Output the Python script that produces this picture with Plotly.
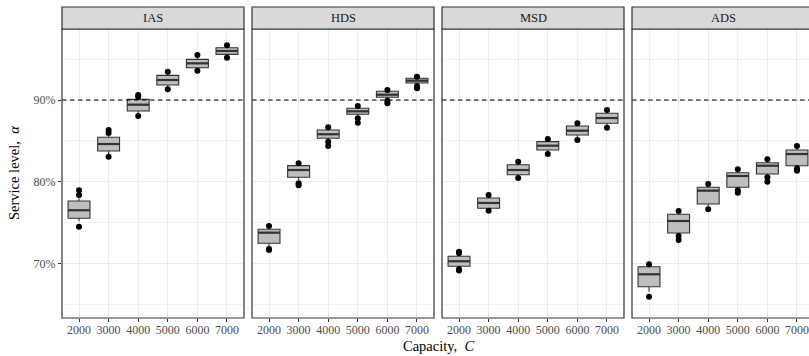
import plotly.graph_objects as go

capacity = [2000, 3000, 4000, 5000, 6000, 7000]
panels = ["IAS", "HDS", "MSD", "ADS"]

ias_q1 = [75.57, 83.78, 88.66, 91.83, 93.94, 95.57]
ias_med = [76.55, 84.63, 89.43, 92.44, 94.47, 95.98]
ias_q3 = [77.68, 85.45, 90.08, 93.00, 94.96, 96.38]
ias_lo = [75.2, 83.4, 88.3, 91.55, 93.75, 95.35]
ias_hi = [78.0, 85.8, 90.3, 93.2, 95.15, 96.5]
ias_out = [[79.0, 78.4, 74.55], [86.34, 85.98, 83.09], [90.61, 90.4, 88.05],
           [93.45, 91.3], [95.49, 93.57], [96.67, 95.16]]

hds_q1 = [72.52, 80.57, 85.33, 88.26, 90.33, 92.07]
hds_med = [73.82, 81.46, 85.82, 88.62, 90.65, 92.36]
hds_q3 = [74.23, 81.99, 86.34, 88.99, 91.06, 92.65]
hds_lo = [72.2, 80.2, 85.1, 88.0, 90.1, 91.85]
hds_hi = [74.4, 82.1, 86.5, 89.1, 91.15, 92.75]
hds_out = [[74.63, 71.83, 71.7], [82.28, 79.84, 79.6], [86.67, 84.92, 84.39],
           [89.27, 87.77, 87.23], [91.22, 89.92, 89.6], [92.85, 91.71, 91.43]]

msd_q1 = [69.72, 76.79, 80.89, 83.90, 85.73, 87.16]
msd_med = [70.33, 77.44, 81.46, 84.43, 86.26, 87.80]
msd_q3 = [70.94, 78.05, 82.11, 84.92, 86.83, 88.38]
msd_lo = [69.5, 76.6, 80.7, 83.65, 85.45, 86.9]
msd_hi = [71.2, 78.25, 82.3, 85.1, 87.0, 88.6]
msd_out = [[71.5, 71.3, 69.35, 69.2], [78.41, 76.5], [82.48, 80.49],
           [85.24, 83.41], [87.16, 85.12], [88.78, 86.62]]

ads_q1 = [67.23, 73.78, 77.32, 79.35, 80.98, 81.98]
ads_med = [68.74, 75.24, 78.95, 80.73, 81.99, 83.41]
ads_q3 = [69.67, 76.06, 79.35, 81.13, 82.35, 83.90]
ads_lo = [66.6, 73.3, 77.0, 79.1, 80.7, 81.8]
ads_hi = [69.9, 76.3, 79.6, 81.4, 82.6, 84.2]
ads_out = [[69.96, 66.01], [76.46, 73.4, 72.93], [79.76, 76.67],
           [81.55, 79.0, 78.7], [82.77, 80.57, 80.04], [84.39, 81.67, 81.38]]

target = 90
y_ticks = [70, 80, 90]
y_minor = [65, 75, 85, 95]

data = {
    "IAS": (ias_q1, ias_med, ias_q3, ias_lo, ias_hi, ias_out),
    "HDS": (hds_q1, hds_med, hds_q3, hds_lo, hds_hi, hds_out),
    "MSD": (msd_q1, msd_med, msd_q3, msd_lo, msd_hi, msd_out),
    "ADS": (ads_q1, ads_med, ads_q3, ads_lo, ads_hi, ads_out),
}

W, H = 809, 356
ML, MR, MT, MB = 62, 0, 29, 38
PW = W - ML - MR
PH = H - MT - MB
panel_px = [(62, 244), (252, 434), (442, 624), (632, 814)]
px_per_unit = 182 / 6150.0
xr0 = 1425

FONT = "Liberation Serif, Times New Roman, serif"
BORDER = "#333333"
GRID = "#EBEBEB"
BOXW = 740

fig = go.Figure()
shapes = []
annotations = []
layout = {}

for i, name in enumerate(panels):
    q1, med, q3, lo, hi, out = data[name]
    ax = "" if i == 0 else str(i + 1)
    xa, ya = "x" + ax, "y" + ax
    fig.add_trace(go.Box(
        x=capacity, q1=q1, median=med, q3=q3, lowerfence=lo, upperfence=hi,
        width=BOXW, whiskerwidth=0, fillcolor="#BEBEBE",
        line=dict(color=BORDER, width=1.1), boxpoints=False,
        xaxis=xa, yaxis=ya, showlegend=False, hoverinfo="skip"))
    mx, my = [], []
    for c, m in zip(capacity, med):
        mx += [c - BOXW / 2, c + BOXW / 2, None]
        my += [m, m, None]
    fig.add_trace(go.Scatter(x=mx, y=my, mode="lines",
                             line=dict(color=BORDER, width=2.2),
                             xaxis=xa, yaxis=ya, showlegend=False, hoverinfo="skip"))
    ox, oy = [], []
    for c, vals in zip(capacity, out):
        for v in vals:
            ox.append(c)
            oy.append(v)
    fig.add_trace(go.Scatter(x=ox, y=oy, mode="markers",
                             marker=dict(color="black", size=6),
                             xaxis=xa, yaxis=ya, showlegend=False, hoverinfo="skip",
                             cliponaxis=False))

    left, right = panel_px[i]
    d0 = (left - ML) / PW
    d1 = min(1.0, (right - ML) / PW)
    xr1 = xr0 + (min(right, W) - left) / px_per_unit
    layout["xaxis" + ax] = dict(
        domain=[d0, d1], range=[xr0, xr1], anchor=ya,
        tickvals=capacity, ticktext=[str(c) for c in capacity],
        showgrid=True, gridcolor=GRID, gridwidth=1,
        ticks="outside", ticklen=3, tickcolor=BORDER, tickwidth=1,
        ticklabelstandoff=-2,
        tickfont=dict(family=FONT, size=12, color="#4D4D4D"),
        showline=False, zeroline=False, fixedrange=True)
    layout["yaxis" + ax] = dict(
        domain=[0, 1], range=[63.41, 98.66], anchor=xa,
        tickvals=y_ticks, ticktext=[f"{v}%" for v in y_ticks],
        showgrid=True, gridcolor=GRID, gridwidth=1,
        minor=dict(tickvals=y_minor, showgrid=True, gridcolor="#F2F2F2", gridwidth=0.6),
        ticks="outside" if i == 0 else "", ticklen=3, tickcolor=BORDER, tickwidth=1,
        showticklabels=(i == 0),
        tickfont=dict(family=FONT, size=12, color="#4D4D4D"),
        showline=False, zeroline=False, fixedrange=True)

    px0 = (left - ML) / PW
    px1 = (right - ML) / PW
    shapes.append(dict(type="line", xref="paper", yref=ya, x0=px0, x1=px1,
                       y0=target, y1=target, layer="above",
                       line=dict(color="black", width=1.2, dash="4.5px,3.5px")))
    shapes.append(dict(type="rect", xref="paper", yref="paper", x0=px0, x1=px1,
                       y0=0, y1=1, layer="above",
                       line=dict(color=BORDER, width=1.2)))
    strip_top = 1 + 22 / PH
    shapes.append(dict(type="rect", xref="paper", yref="paper", x0=px0, x1=px1,
                       y0=1, y1=strip_top, layer="above", fillcolor="#D9D9D9",
                       line=dict(color=BORDER, width=1.2)))
    annotations.append(dict(text=name, xref="paper", yref="paper",
                            x=(px0 + px1) / 2, y=(1 + strip_top) / 2,
                            xanchor="center", yanchor="middle", showarrow=False,
                            font=dict(family=FONT, size=12.5, color="#1A1A1A")))

annotations.append(dict(text="Capacity,  <i>C</i>", xref="paper", yref="paper",
                        x=(438 - ML) / PW, y=-(346 - (H - MB)) / PH,
                        xanchor="center", yanchor="middle", showarrow=False,
                        font=dict(family=FONT, size=14.5, color="black")))
annotations.append(dict(text="Service level,  <i>α</i>", xref="paper", yref="paper",
                        x=(14 - ML) / PW, y=((H - MB) - 173) / PH, textangle=-90,
                        xanchor="center", yanchor="middle", showarrow=False,
                        font=dict(family=FONT, size=14.5, color="black")))

fig.update_layout(
    width=W, height=H, margin=dict(l=ML, r=MR, t=MT, b=MB, pad=0),
    paper_bgcolor="white", plot_bgcolor="white",
    shapes=shapes, annotations=annotations, showlegend=False,
    **layout)

fig.write_html("out.html", config={"displayModeBar": False},
               post_script="document.body.style.margin='0';"
                           "document.body.style.padding='0';"
                           "document.body.style.overflow='hidden';")
